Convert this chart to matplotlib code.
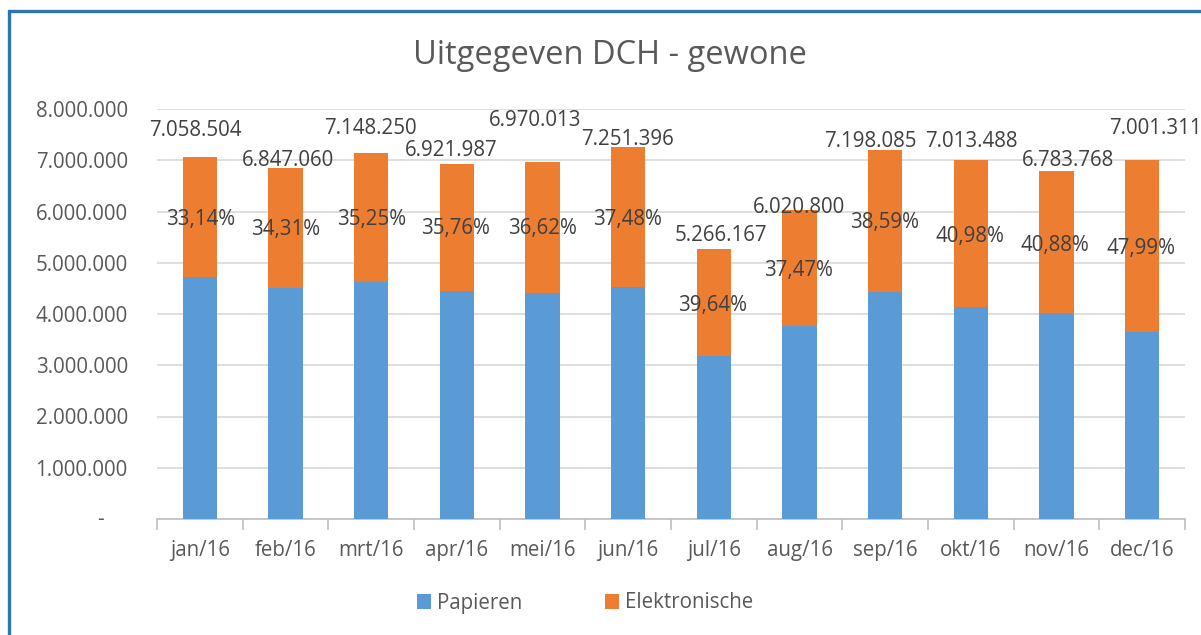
import matplotlib
matplotlib.use("Agg")
import matplotlib.pyplot as plt
from matplotlib.patches import Rectangle
from matplotlib.ticker import FuncFormatter

months = ["jan/16", "feb/16", "mrt/16", "apr/16", "mei/16", "jun/16",
          "jul/16", "aug/16", "sep/16", "okt/16", "nov/16", "dec/16"]
totals = [7058504, 6847060, 7148250, 6921987, 6970013, 7251396,
          5266167, 6020800, 7198085, 7013488, 6783768, 7001311]
share_elec = [33.14, 34.31, 35.25, 35.76, 36.62, 37.48,
              39.64, 37.47, 38.59, 40.98, 40.88, 47.99]
papieren = [4719316, 4497834, 4628492, 4446684, 4417594, 4533573,
            3178658, 3764786, 4420344, 4139361, 4010564, 3641382]
elektronische = [2339188, 2349226, 2519758, 2475303, 2552419, 2717823,
                 2087509, 2256014, 2777741, 2874127, 2773204, 3359929]

# label placement (manual, as in source)
total_lbl_dx = [-0.05, 0.03, -0.01, -0.07, -0.09, -0.01, 0.08, -0.01, -0.17, 0.01, 0.13, 0.15]
total_lbl_y = [7.58, 7.0, 7.62, 7.2, 7.78, 7.4, 5.54, 6.07, 7.37, 7.36, 6.99, 7.61]
pct_lbl_dx = [0.01, 0.0, 0.0, -0.01, 0.0, -0.01, -0.01, -0.01, -0.01, -0.01, -0.02, -0.01]
pct_lbl_y = [5.84, 5.64, 5.84, 5.66, 5.66, 5.84, 4.17, 4.85, 5.78, 5.52, 5.34, 5.28]

BLUE = "#5B9BD5"
ORANGE = "#ED7D31"
TXT = "#595959"
LBL = "#404040"
FONT = "Open Sans"
plt.rcParams["font.family"] = [FONT, "DejaVu Sans"]
FS = 14.8

W, H = 1201, 635
fig = plt.figure(figsize=(W / 100, H / 100), dpi=100)
fig.patch.set_facecolor("white")

# outer frame
fig.patches.append(Rectangle((9 / W, -0.2), 2.0, 1.2 - 11 / H,
                             transform=fig.transFigure, fill=False,
                             edgecolor="#2E75B6", linewidth=2.4))

ax = fig.add_axes([157 / W, 1 - 519 / H, (1185 - 157) / W, (519 - 109) / H])
x = list(range(len(months)))
ax.bar(x, papieren, width=0.40, color=BLUE, label="Papieren", zorder=3)
ax.bar(x, elektronische, width=0.40, bottom=papieren, color=ORANGE,
       label="Elektronische", zorder=3)

ax.set_xlim(-0.5, len(months) - 0.5)
ax.set_ylim(0, 8000000)
ax.set_yticks(range(0, 8000001, 1000000))
ax.yaxis.set_major_formatter(FuncFormatter(
    lambda v, p: "" if v == 0 else f"{int(v):,}".replace(",", ".")))
ax.grid(axis="y", color="#D9D9D9", linewidth=1.2, zorder=0)
ax.set_axisbelow(True)
for s in ["top", "right", "left"]:
    ax.spines[s].set_visible(False)
ax.spines["bottom"].set_color("#BFBFBF")
ax.spines["bottom"].set_linewidth(1.2)
ax.tick_params(axis="y", length=0, labelsize=FS, labelcolor=TXT, pad=21)
ax.set_xticks(x)
ax.set_xticklabels(months)
ax.tick_params(axis="x", which="major", length=0, labelsize=FS, labelcolor=TXT, pad=15)
ax.set_xticks([i - 0.5 for i in range(len(months) + 1)], minor=True)
ax.tick_params(axis="x", which="minor", length=8, color="#BFBFBF", width=1.2)

# zero label "-" (accounting format, set in from the other tick labels)
ax.text(-0.0555, 0, "-", transform=ax.get_yaxis_transform(), ha="center",
        va="center", fontsize=FS, color=TXT, clip_on=False)

for i in x:
    ax.text(i + total_lbl_dx[i], total_lbl_y[i] * 1e6,
            f"{totals[i]:,}".replace(",", "."), ha="center", va="center",
            fontsize=FS, color=LBL, zorder=5, clip_on=False)
    ax.text(i + pct_lbl_dx[i], pct_lbl_y[i] * 1e6,
            f"{share_elec[i]:.2f}%".replace(".", ","), ha="center", va="center",
            fontsize=FS, color=LBL, zorder=5)

fig.text(610 / W, 1 - 55 / H, "Uitgegeven DCH - gewone", ha="center", va="center",
         fontsize=23.5, color=TXT)

leg = fig.legend(loc="center", bbox_to_anchor=(585 / W, 1 - 603 / H), ncol=2,
                 frameon=False, fontsize=FS, handlelength=0.7, handleheight=0.7,
                 handletextpad=0.3, columnspacing=4.0)
for t in leg.get_texts():
    t.set_color(TXT)

fig.savefig("out.png", dpi=100)
